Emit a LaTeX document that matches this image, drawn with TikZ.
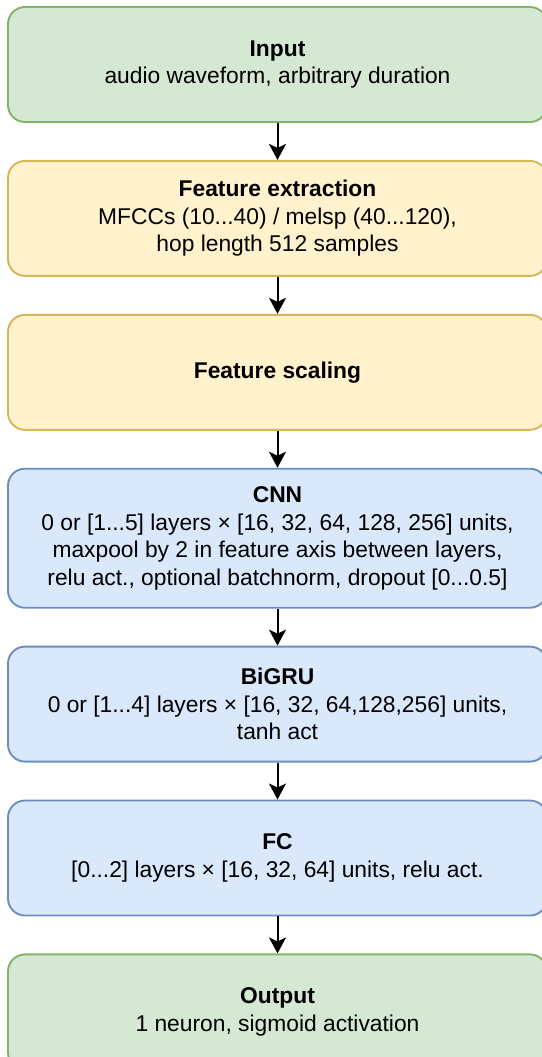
\documentclass[tikz,border=0pt]{standalone}
\usepackage{fontspec}
\setmainfont{Liberation Sans}
\usetikzlibrary{positioning,arrows.meta}
\definecolor{iogreen}{HTML}{D5E8D4}
\definecolor{iogreenline}{HTML}{82B366}
\definecolor{featyellow}{HTML}{FFF2CC}
\definecolor{featyellowline}{HTML}{D6B656}
\definecolor{netblue}{HTML}{DAE8FC}
\definecolor{netblueline}{HTML}{6C8EBF}
\begin{document}
\begin{tikzpicture}[x=1pt, y=1pt, every node/.style={font=\fontsize{22.8}{27.5}\selectfont}, node distance=37pt,
  box/.style={draw, line width=1.9pt, rounded corners=17pt, align=center, minimum width=539pt, minimum height=115pt, inner sep=0pt},
  iobox/.style={box, fill=iogreen, draw=iogreenline},
  featbox/.style={box, fill=featyellow, draw=featyellowline},
  netbox/.style={box, fill=netblue, draw=netblueline},
  flow/.style={-{Stealth[length=16pt, width=17pt, inset=4pt]}, line width=2pt}]
\useasboundingbox (0,0) rectangle (541,-1057);
\node[iobox] (input) at (277.5,-64.5) {\textbf{Input}\\audio waveform, arbitrary duration};
\node[featbox, below=of input] (featx) {\textbf{Feature extraction}\\MFCCs (10...40) / melsp (40...120),\\hop length 512 samples};
\node[featbox, below=of featx] (scaling) {\textbf{Feature scaling}};
\node[netbox, below=of scaling, minimum height=139pt] (cnn) {\textbf{CNN}\\0 or [1...5] layers × [16, 32, 64, 128, 256] units,\\maxpool by 2 in feature axis between layers,\\relu act., optional batchnorm, dropout [0...0.5]};
\node[netbox, below=of cnn] (bigru) {\textbf{BiGRU}\\0 or [1...4] layers × [16, 32, 64,128,256] units,\\tanh act};
\node[netbox, below=of bigru] (fc) {\textbf{FC}\\{}[0...2] layers × [16, 32, 64] units, relu act.};
\node[iobox, below=of fc] (output) {\textbf{Output}\\1 neuron, sigmoid activation};
\draw[flow] (input) -- (featx);
\draw[flow] (featx) -- (scaling);
\draw[flow] (scaling) -- (cnn);
\draw[flow] (cnn) -- (bigru);
\draw[flow] (bigru) -- (fc);
\draw[flow] (fc) -- (output);
\end{tikzpicture}
\end{document}
